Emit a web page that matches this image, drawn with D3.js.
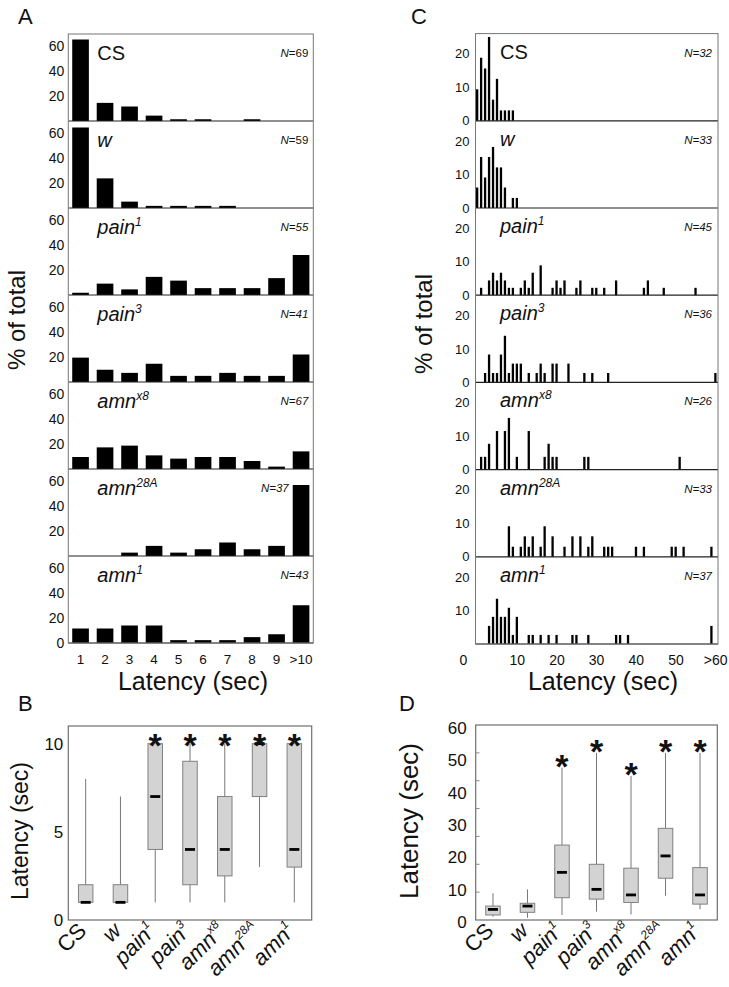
<!DOCTYPE html>
<html><head><meta charset="utf-8">
<script src="https://cdn.jsdelivr.net/npm/d3@7"></script>
<style>
body{margin:0;background:#fff}
svg text{font-family:"Liberation Sans",Arial,Helvetica,sans-serif;fill:#111}
</style></head>
<body><svg id="chart" width="729" height="987"></svg>
<script>
// ---------------- DATA ----------------
const genoNames = ["CS","w","pain","pain","amn","amn","amn"];
const genoSups  = ["","","1","3","x8","28A","1"];
const nA = [69,59,55,41,67,37,43];
const nC = [32,33,45,36,26,33,37];

// Panel A: % of total per latency bin (sec)
const binsA = ["1","2","3","4","5","6","7","8","9",">10"];
const histA_CS    = [65.2,14.5,11.6,4.3,1.4,1.4,0,1.4,0,0];
const histA_w     = [64.4,23.7,5.1,1.7,1.7,1.7,1.7,0,0,0];
const histA_pain1 = [1.8,9.1,4.5,14.5,11.5,5.5,5.5,5.5,13.5,32.0];
const histA_pain3 = [19.5,9.8,7.3,14.6,4.9,4.9,7.3,4.9,4.9,22.0];
const histA_amnx8 = [9.6,17.3,18.7,10.9,8.3,9.6,9.6,6.4,1.9,14.1];
const histA_amn28A= [0,0,2.7,8.1,2.7,5.4,10.8,5.4,8.1,56.8];
const histA_amn1  = [11.6,11.6,14.0,14.0,2.3,2.3,2.3,4.7,7.0,30.2];
const yTicksA = [20,40,60];

// Panel C: latency bin start (sec) and % of total
const latC_CS    = [0,1,2,3,4,5,6,7,8,9];
const pctC_CS    = [9.4,18.8,15.6,25.0,6.3,12.5,3.1,3.1,3.1,3.1];
const latC_w     = [0,1,2,3,4,5,6,7,9,10];
const pctC_w     = [6.1,15.2,9.1,15.2,18.2,12.1,12.1,6.1,3.0,3.0];
const latC_pain1 = [1,3,4,5,6,7,8,9,11,12,13,14,16,19,20,21,22,25,26,29,30,32,35,42,43,47,55];
const pctC_pain1 = [2.2,4.4,6.7,4.4,6.7,4.4,2.2,2.2,2.2,4.4,2.2,6.7,8.9,2.2,4.4,2.2,4.4,2.2,4.4,2.2,2.2,2.2,4.4,2.2,4.4,2.2,2.2];
const latC_pain3 = [2,3,4,5,6,7,8,9,10,11,13,15,16,17,19,20,23,27,29,33,60];
const pctC_pain3 = [2.8,8.3,2.8,2.8,8.3,13.9,2.8,5.6,5.6,5.6,2.8,2.8,5.6,2.8,5.6,5.6,5.6,2.8,2.8,2.8,2.8];
const latC_amnx8 = [1,2,3,5,7,8,10,13,17,18,19,20,27,28,51];
const pctC_amnx8 = [3.8,3.8,7.7,11.5,11.5,15.4,3.8,11.5,3.8,7.7,3.8,3.8,3.8,3.8,3.8];
const latC_amn28A= [8,9,11,12,13,14,16,17,19,22,24,26,28,29,32,33,34,40,42,49,50,52,59];
const pctC_amn28A= [9.1,3.0,3.0,6.1,3.0,6.1,3.0,9.1,6.1,3.0,6.1,6.1,3.0,6.1,3.0,3.0,3.0,3.0,3.0,3.0,3.0,3.0,3.0];
const latC_amn1  = [3,4,5,6,7,8,9,10,13,14,16,18,20,24,25,28,35,36,38,59];
const pctC_amn1  = [5.4,8.1,13.5,8.1,8.1,10.8,2.7,8.1,2.7,2.7,2.7,2.7,2.7,2.7,2.7,2.7,2.7,2.7,2.7,5.4];
const yTicksC = [0,10,20];
const xTicksC = [0,10,20,30,40,50,60];
const xTickLabelsC = ["0","10","20","30","40","50",">60"];

// Panel B: box plot (sec), 10 s cut-off
const bLow  = [1,1,1,1,1,3,1];
const bQ1   = [1,1,4,2,2.5,7,3];
const bMed  = [1,1,7,4,4,10,4];
const bQ3   = [2,2,10,9,7,10,10];
const bHigh = [8,7,10,10,10,10,10];
const bSig  = [false,false,true,true,true,true,true];
const yTicksB = [0,5,10];

// Panel D: box plot (sec), 60 s cut-off
const dLow  = [1.2,0.8,1.8,3.0,2.0,8.7,3.8];
const dQ1   = [1.8,2.75,8.0,7.5,6.3,15.0,5.7];
const dMed  = [3.8,5.0,17.1,11.0,9.0,23.0,9.0];
const dQ3   = [5.0,6.0,26.9,20.0,18.6,32.9,18.8];
const dHigh = [9.6,11.0,54.7,60,51.7,60,60];
const dSig  = [false,false,true,true,true,true,true];
const yTicksD = [0,10,20,30,40,50,60];

const histA = [histA_CS,histA_w,histA_pain1,histA_pain3,histA_amnx8,histA_amn28A,histA_amn1];
const latC = [latC_CS,latC_w,latC_pain1,latC_pain3,latC_amnx8,latC_amn28A,latC_amn1];
const pctC = [pctC_CS,pctC_w,pctC_pain1,pctC_pain3,pctC_amnx8,pctC_amn28A,pctC_amn1];

// ---------------- DRAW ----------------
const svg = d3.select("#chart");
const FONT = '"Liberation Sans", Arial, Helvetica, sans-serif';

function styleAxis(sel, size){
  sel.attr("font-family", FONT).attr("font-size", size);
  sel.select(".domain").remove();
  sel.selectAll("text").attr("fill","#111");
}
function genoLabel(sel, i, supSize, supDy){
  sel.append("tspan").text(genoNames[i]).attr("font-style", i===0 ? "normal" : "italic");
  if (genoSups[i]) sel.append("tspan").text(genoSups[i]).attr("font-size", supSize)
      .attr("dy", supDy).attr("font-style","italic");
}

// panel letters
[["A",18,24],["C",411,24],["B",18,711],["D",399,711]].forEach(([t,x,y]) =>
  svg.append("text").attr("x",x).attr("y",y).attr("font-size",22).text(t));

// ----- Panel A -----
const A = {left:68.3, right:313.3, top:34, h:87};
const xA = d3.scaleBand().domain(binsA).range([A.left, A.right]).paddingInner(0.32).paddingOuter(0.16);
const yA = d3.scaleLinear().domain([0, 69.6]).range([A.h, 0]);
histA.forEach((vals, i) => {
  const g = svg.append("g").attr("transform", `translate(0,${A.top + i*A.h})`);
  g.selectAll("rect").data(vals).join("rect")
    .attr("x", (d,j) => xA(binsA[j])).attr("width", xA.bandwidth())
    .attr("y", d => yA(d)).attr("height", d => yA(0) - yA(d)).attr("fill","#000");
  g.append("line").attr("x1",A.left).attr("x2",A.right).attr("y1",yA(0)).attr("y2",yA(0))
    .attr("stroke","#222").attr("stroke-width",1.2);
  g.append("g").attr("transform",`translate(${A.left},0)`)
    .call(d3.axisLeft(yA).tickValues(i===6 ? [0].concat(yTicksA) : yTicksA).tickSize(0).tickPadding(4))
    .call(s => styleAxis(s, 14));
  const t = g.append("text").attr("x", A.left + 29).attr("y", 25.5).attr("font-size", 20);
  genoLabel(t, i, 12, -8);
  const tallLast = vals[vals.length-1] > 45;
  const nt = g.append("text").attr("text-anchor","end")
    .attr("x", tallLast ? xA(">10") - 4 : A.right - 5).attr("y", 23).attr("font-size", 11.5);
  nt.append("tspan").text("N").attr("font-style","italic");
  nt.append("tspan").text("=" + nA[i]).attr("font-style", i < 2 ? "normal" : "italic");
});
svg.append("rect").attr("x",A.left).attr("y",A.top).attr("width",A.right-A.left).attr("height",A.h*7)
  .attr("fill","none").attr("stroke","#777").attr("stroke-width",1);
svg.append("g").attr("transform",`translate(0,${A.top + 7*A.h})`)
  .call(d3.axisBottom(xA).tickSize(0).tickPadding(11)).call(s => styleAxis(s, 13.5));
svg.append("text").attr("x",193).attr("y",689.5).attr("text-anchor","middle").attr("font-size",25).text("Latency (sec)");
svg.append("text").attr("transform","translate(25,320) rotate(-90)").attr("text-anchor","middle")
  .attr("font-size",24).text("% of total");

// ----- Panel C -----
const C = {left:475.5, right:718, top:33.6, h:87.2};
const xC = d3.scaleLinear().domain([0, 61]).range([476, 718.2]);
const yC = d3.scaleLinear().domain([0, 26]).range([C.h, 0]);
const barWC = 2.3;
latC.forEach((lats, i) => {
  const g = svg.append("g").attr("transform", `translate(0,${C.top + i*C.h})`);
  g.selectAll("rect").data(lats).join("rect")
    .attr("x", d => xC(d)).attr("width", barWC)
    .attr("y", (d,j) => yC(pctC[i][j])).attr("height", (d,j) => yC(0) - yC(pctC[i][j])).attr("fill","#000");
  g.append("line").attr("x1",C.left).attr("x2",C.right).attr("y1",yC(0)).attr("y2",yC(0))
    .attr("stroke","#222").attr("stroke-width",1.2);
  g.append("g").attr("transform",`translate(${C.left},0)`)
    .call(d3.axisLeft(yC).tickValues(i===6 ? yTicksC.slice(1) : yTicksC).tickSize(0).tickPadding(6))
    .call(s => styleAxis(s, 13));
  const t = g.append("text").attr("x", C.left + 24.5).attr("y", 25).attr("font-size", 20);
  genoLabel(t, i, 12, -8);
  const nt = g.append("text").attr("text-anchor","end").attr("x", C.right - 6).attr("y", 23).attr("font-size", 11.5)
    .attr("font-style","italic");
  nt.append("tspan").text("N");
  nt.append("tspan").text("=" + nC[i]);
});
svg.append("rect").attr("x",C.left).attr("y",C.top).attr("width",C.right-C.left).attr("height",C.h*7)
  .attr("fill","none").attr("stroke","#777").attr("stroke-width",1);
svg.append("g").attr("transform",`translate(0,${C.top + 7*C.h})`)
  .call(d3.axisBottom(xC).tickValues(xTicksC).tickFormat((d,j) => xTickLabelsC[j]).tickSize(0).tickPadding(11))
  .call(s => styleAxis(s, 14))
  .call(s => s.selectAll(".tick text").attr("dx", d => d===0 ? -13 : 1));
svg.append("text").attr("x",603).attr("y",689.5).attr("text-anchor","middle").attr("font-size",25).text("Latency (sec)");
svg.append("text").attr("transform","translate(432,324) rotate(-90)").attr("text-anchor","middle")
  .attr("font-size",24).text("% of total");

// ----- Box plots -----
function boxPanel(cfg){
  const {left,right,top,bottom,ymax,low,q1,med,q3,high,sig,starGap,titleX,titleY,titleSize} = cfg;
  const x = d3.scaleBand().domain(genoNames.map((d,i)=>i)).range([left,right]);
  const y = d3.scaleLinear().domain([0,ymax]).range([bottom,top]);
  const g = svg.append("g");
  const bw = 14.5;
  genoNames.forEach((n,i) => {
    const cx = x(i) + x.bandwidth()/2;
    g.append("line").attr("x1",cx).attr("x2",cx).attr("y1",y(high[i])).attr("y2",y(q3[i]))
      .attr("stroke","#777").attr("stroke-width",1);
    g.append("line").attr("x1",cx).attr("x2",cx).attr("y1",y(q1[i])).attr("y2",y(low[i]))
      .attr("stroke","#777").attr("stroke-width",1);
    g.append("rect").attr("x",cx-bw/2).attr("width",bw).attr("y",y(q3[i])).attr("height",y(q1[i])-y(q3[i]))
      .attr("fill","#d3d3d3").attr("stroke","#808080").attr("stroke-width",1);
    g.append("line").attr("x1",cx-5).attr("x2",cx+5).attr("y1",y(med[i])).attr("y2",y(med[i]))
      .attr("stroke","#000").attr("stroke-width",2.8);
    if (sig[i]) g.append("text").attr("x",cx).attr("y", y(high[i]) - starGap + 19)
      .attr("text-anchor","middle").attr("font-size",34).attr("font-weight","bold").text("*");
    const t = g.append("text").attr("text-anchor","end")
      .attr("transform",`translate(${cx+2},${bottom+12}) rotate(-45)`).attr("font-size",22);
    genoLabel(t, i, 12, -10);
  });
  g.append("rect").attr("x",left).attr("y",top).attr("width",right-left).attr("height",bottom-top)
    .attr("fill","none").attr("stroke","#6f6f6f").attr("stroke-width",1.2);
  svg.append("text").attr("transform",`translate(${titleX},${titleY}) rotate(-90)`).attr("text-anchor","middle")
    .attr("font-size",titleSize).text("Latency (sec)");
  return {x,y,g};
}

// B
const pB = boxPanel({left:68.3,right:311.7,top:726,bottom:920,ymax:11,low:bLow,q1:bQ1,med:bMed,q3:bQ3,high:bHigh,sig:bSig,
  starGap:6,titleX:28,titleY:831,titleSize:23});
pB.g.append("g").attr("transform","translate(68.3,0)")
  .call(d3.axisLeft(pB.y).tickValues(yTicksB).tickSize(0).tickPadding(5)).call(s => styleAxis(s,17));

// D
const pD = boxPanel({left:475.7,right:717.3,top:725,bottom:920,ymax:70,low:dLow,q1:dQ1,med:dMed,q3:dQ3,high:dHigh,sig:dSig,
  starGap:9,titleX:418,titleY:821,titleSize:26});
// inner tick marks on the data scale
pD.g.selectAll("line.tk").data(yTicksD.slice(1)).join("line").attr("class","tk")
  .attr("x1",475.7).attr("x2",479.5).attr("y1",d=>pD.y(d)).attr("y2",d=>pD.y(d))
  .attr("stroke","#888").attr("stroke-width",1);
// tick labels as printed in the figure (evenly spread up to the frame top)
const yLabD = d3.scaleLinear().domain([0,60]).range([922,728]);
pD.g.append("g").attr("transform","translate(475.7,0)")
  .call(d3.axisLeft(yLabD).tickValues(yTicksD).tickSize(0).tickPadding(9)).call(s => styleAxis(s,17));
</script>
</body></html>
